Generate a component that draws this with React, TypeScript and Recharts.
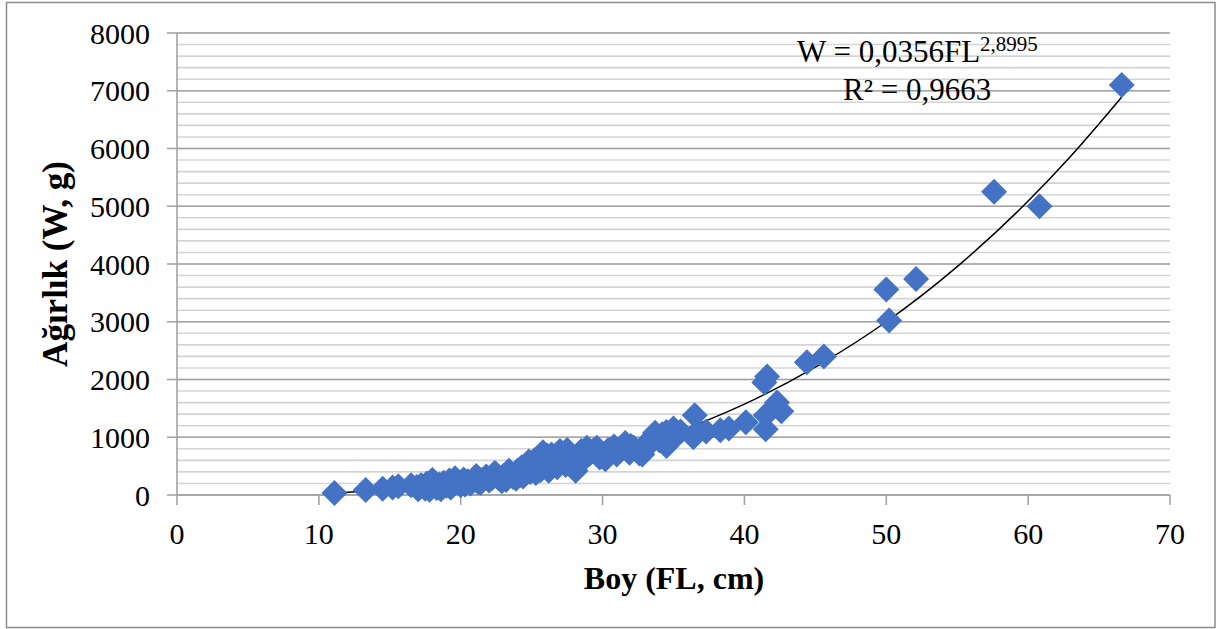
import React from 'react';
import { ComposedChart, Scatter, Line, XAxis, YAxis, CartesianGrid } from 'recharts';

// Fork length (FL, cm) of each fish
const flValues = [
  11.1, 13.3, 14.5, 15.2, 15.6, 16.9, 17.2, 17.5, 17.6, 17.9, 18.1, 18.3, 18.5, 18.8, 19.0, 19.2, 19.5, 19.8,
  20.0, 20.2, 20.5, 20.7, 21.0, 21.2, 21.5, 21.8, 22.0, 22.2, 22.5, 22.7, 23.0, 23.2, 23.5, 23.7, 24.0, 24.2,
  24.4, 24.7, 24.9, 25.1, 25.3, 25.5, 25.7, 25.8, 26.0, 26.2, 26.4, 26.6, 26.8, 27.0, 27.2, 27.4, 27.6, 27.8,
  28.0, 28.3, 28.6, 28.9, 29.1, 29.4, 29.8, 30.0, 30.4, 30.8, 31.2, 31.6, 31.9, 32.2, 32.6, 32.9, 33.3, 33.7,
  34.0, 34.5, 34.5, 35.0, 35.3, 36.4, 36.5, 36.7, 37.3, 38.3, 38.9, 40.1, 41.5, 41.5, 41.4, 41.6, 42.3, 42.6,
  44.4, 45.6, 50.0, 50.2, 52.1, 57.6, 60.8, 66.6,
  16.5, 17.0, 17.8, 18.0, 18.6, 19.3, 19.6, 20.3, 21.1, 21.4, 22.4, 22.9, 23.4, 23.9, 24.3, 24.5, 24.8, 25.2,
  25.6, 26.1, 26.9, 27.5, 28.1, 28.5, 29.6, 30.2, 31.0, 32.0, 32.8, 33.0, 34.2, 35.5, 36.6,
];
// Weight (W, g) of each fish
const weightValues = [
  35, 85, 110, 130, 150, 140, 170, 110, 200, 150, 230, 120, 180, 210, 160, 250, 190, 220,
  170, 270, 240, 200, 300, 230, 260, 320, 250, 290, 360, 280, 330, 260, 380, 310, 420, 350,
  320, 480, 400, 550, 380, 650, 450, 740, 520, 420, 700, 600, 480, 760, 650, 520, 700, 580,
  500, 680, 600, 820, 720, 780, 650, 700, 780, 840, 760, 900, 730, 820, 720, 780, 950, 1080,
  950, 850, 1090, 1150, 1050, 1000, 1380, 1100, 1100, 1120, 1150, 1260, 1140, 1380, 1950, 2050, 1600, 1450,
  2300, 2400, 3560, 3020, 3740, 5250, 5000, 7100,
  170, 100, 90, 260, 100, 130, 290, 180, 330, 210, 380, 240, 420, 280, 480, 380, 580, 600,
  430, 680, 560, 780, 420, 760, 820, 620, 700, 850, 700, 850, 1050, 1100, 1060,
];
// Power trend line (W = 0,0356FL^2,8995)
const trendFL = [11.1, 15, 20, 25, 30, 35, 40, 45, 50, 55, 60, 63, 66.6];
const trendW = [38, 92, 210, 402, 683, 1070, 1573, 2215, 3000, 3955, 5090, 5867, 6893];

const xTicks = [0, 10, 20, 30, 40, 50, 60, 70];
const yTicks = [0, 1000, 2000, 3000, 4000, 5000, 6000, 7000, 8000];
const yMinorTicks = Array.from({ length: 41 }, (_, i) => i * 200);

const points = flValues.map((fl, i) => ({ fl, w: weightValues[i] }));
const trend = trendFL.map((fl, i) => ({ fl, w: trendW[i] }));

const FONT = '"Liberation Serif", "Times New Roman", serif';
const BLUE = '#4472C4';

const Diamond = (props: any) => {
  const { cx, cy } = props;
  if (cx == null || cy == null) return null;
  const r = 13;
  return (
    <polygon
      points={`${cx},${cy - r} ${cx + r},${cy} ${cx},${cy + r} ${cx - r},${cy}`}
      fill={BLUE}
    />
  );
};

export default function App() {
  return (
    <div style={{ position: 'absolute', left: 0, top: 0, width: 1218, height: 629, background: '#fff' }}>
      <ComposedChart
        width={1218}
        height={629}
        margin={{ top: 33, right: 48, bottom: 74, left: 97 }}
      >
        <CartesianGrid
          vertical={false}
          horizontalValues={yMinorTicks}
          stroke="#D4D4D4"
          strokeWidth={1.6}
        />
        <CartesianGrid vertical={false} stroke="#A3A3A3" strokeWidth={1.6} />
        <XAxis
          type="number"
          dataKey="fl"
          domain={[0, 70]}
          ticks={xTicks}
          interval={0}
          height={60}
          axisLine={{ stroke: '#A3A3A3', strokeWidth: 1.6 }}
          tickLine={{ stroke: '#A3A3A3', strokeWidth: 1.6 }}
          tickSize={10}
          tickMargin={18}
          tick={{ fill: '#000', fontSize: 30, fontFamily: FONT }}
        />
        <YAxis
          type="number"
          dataKey="w"
          domain={[0, 8000]}
          ticks={yTicks}
          interval={0}
          width={80}
          axisLine={{ stroke: '#A3A3A3', strokeWidth: 1.6 }}
          tickLine={{ stroke: '#A3A3A3', strokeWidth: 1.6 }}
          tickSize={10}
          tickMargin={17}
          tick={{ fill: '#000', fontSize: 30, fontFamily: FONT }}
        />
        <Scatter data={points} dataKey="w" fill={BLUE} shape={Diamond} isAnimationActive={false} />
        <Line
          data={trend}
          dataKey="w"
          type="monotone"
          stroke="#000"
          strokeWidth={1.5}
          dot={false}
          activeDot={false}
          isAnimationActive={false}
        />
      </ComposedChart>
      <svg
        width={1218}
        height={629}
        style={{ position: 'absolute', left: 0, top: 0, pointerEvents: 'none' }}
      >
        <rect x={6.5} y={2.5} width={1208.5} height={625} fill="none" stroke="#8C8C8C" strokeWidth={1.5} />
        <text
          x={674}
          y={589}
          textAnchor="middle"
          fontFamily={FONT}
          fontWeight="bold"
          fontSize={32}
          fill="#000"
        >
          Boy (FL, cm)
        </text>
        <text
          transform="translate(67, 264) rotate(-90)"
          textAnchor="middle"
          fontFamily={FONT}
          fontWeight="bold"
          fontSize={35}
          fill="#000"
        >
          Ağırlık (W, g)
        </text>
        <text x={797} y={62} fontFamily={FONT} fontSize={31} fill="#000">
          W = 0,0356FL
          <tspan fontSize={21} dy={-11}>2,8995</tspan>
        </text>
        <text x={843} y={100} fontFamily={FONT} fontSize={31} fill="#000">
          R² = 0,9663
        </text>
      </svg>
    </div>
  );
}
